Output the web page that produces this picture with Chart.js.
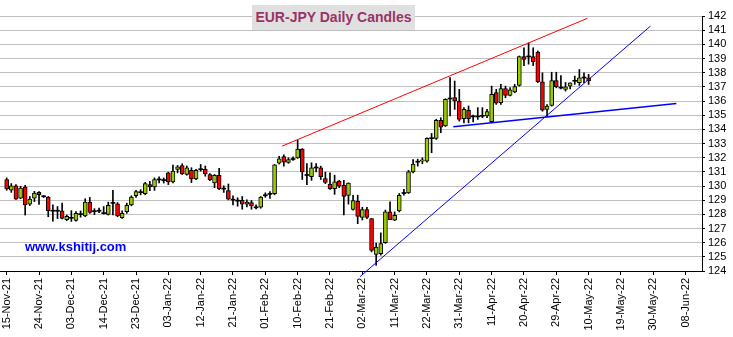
<!DOCTYPE html>
<html>
<head>
<meta charset="utf-8">
<script src="https://cdn.jsdelivr.net/npm/chart.js@4.4.1/dist/chart.umd.min.js"></script>
<style>
  body { margin: 0; background: #fff; }
  #wrap { position: relative; width: 733px; height: 337px; }
  #title {
    position: absolute; left: 252px; top: 5px; width: 163px; height: 25px;
    background: #e0e0e0; color: #993366; text-align: center;
    font: bold 14px 'Liberation Sans', Arial, sans-serif; line-height: 25px;
  }
  #site {
    position: absolute; left: 25px; top: 239px; color: #0000ff;
    font: bold 13px 'Liberation Sans', Arial, sans-serif;
  }
</style>
</head>
<body>
<div id="wrap">
  <canvas id="chart" width="733" height="337"></canvas>
  <div id="title">EUR-JPY Daily Candles</div>
  <div id="site">www.kshitij.com</div>
</div>
<script>
// x axis: one slot per trading day, a labelled tick every 7th day
const tickLabels = ['15-Nov-21', '24-Nov-21', '03-Dec-21', '14-Dec-21', '23-Dec-21', '03-Jan-22',
  '12-Jan-22', '21-Jan-22', '01-Feb-22', '10-Feb-22', '21-Feb-22', '02-Mar-22', '11-Mar-22',
  '22-Mar-22', '31-Mar-22', '11-Apr-22', '20-Apr-22', '29-Apr-22', '10-May-22', '19-May-22',
  '30-May-22', '08-Jun-22'];

// daily OHLC, 15-Nov-21 .. 10-May-22
const opens = [130.45,129.71,130.02,129.14,129.93,128.71,129.14,129.55,129.28,129.21,
  128.26,128.26,128.24,127.62,127.76,127.57,128.02,127.88,128.86,128.19,
  128.22,128.09,128.00,128.77,128.74,127.76,128.19,128.67,129.31,129.53,
  129.45,130.10,129.93,130.43,130.38,130.93,130.29,131.17,131.45,130.81,
  131.10,130.50,131.15,131.17,130.81,130.21,130.76,129.78,129.67,129.00,
  128.93,128.98,128.71,128.83,128.46,128.50,129.31,129.41,129.45,131.62,
  132.08,131.66,131.87,131.99,132.60,130.78,130.65,131.27,131.28,130.53,
  130.13,129.82,130.34,130.05,129.33,128.34,128.92,127.78,128.34,127.70,
  125.17,125.22,126.00,128.17,127.58,128.24,129.47,129.51,131.00,131.68,
  131.76,131.76,133.34,133.36,134.64,134.24,136.14,136.24,136.00,134.75,
  135.36,134.94,134.88,134.92,134.94,134.54,136.59,135.88,136.87,136.40,
  136.64,137.10,139.13,139.11,139.13,139.46,137.36,135.40,135.68,137.45,
  136.95,136.82,137.05,137.39,137.29,137.62,137.64];
const highs = [130.57,130.17,130.10,129.98,130.05,129.26,129.62,129.60,129.33,129.26,
  128.67,128.55,128.79,127.95,128.26,128.19,128.24,129.10,129.19,128.40,
  128.45,128.55,128.86,129.69,128.83,128.24,128.79,129.31,129.69,129.74,
  130.26,130.33,130.57,130.64,130.57,130.98,131.48,131.45,131.57,131.41,
  131.29,131.17,131.52,131.41,130.88,130.81,131.24,130.02,130.14,129.31,
  129.17,129.26,129.02,128.98,128.67,129.26,129.52,129.60,131.52,132.10,
  132.20,131.99,132.06,133.24,132.64,131.59,131.64,131.59,131.40,130.98,
  130.93,130.76,130.40,130.40,130.22,129.35,129.35,128.50,128.50,127.70,
  125.97,126.69,128.30,128.88,128.17,129.47,129.76,131.10,131.87,131.90,
  131.99,133.40,133.71,134.71,134.82,136.16,137.65,137.41,136.82,135.53,
  135.65,135.00,135.53,135.53,135.41,137.05,136.82,137.17,137.05,136.95,
  137.17,139.18,139.76,140.10,139.76,139.53,137.99,135.75,138.03,138.03,
  137.80,137.31,137.29,137.76,138.22,137.99,137.88];
const lows = [129.70,129.55,129.05,129.10,127.95,128.62,128.90,128.70,129.19,127.83,
  127.52,127.70,127.67,127.55,127.50,127.52,127.80,127.83,128.07,127.98,
  128.12,128.02,127.95,127.95,127.83,127.71,128.07,128.60,129.19,129.38,
  129.38,129.67,129.69,130.21,130.21,130.10,130.21,130.93,130.81,130.76,
  130.24,130.45,131.05,130.69,130.38,129.88,129.74,129.55,129.02,128.67,
  128.57,128.36,128.52,128.36,128.38,128.43,129.20,129.12,129.38,131.55,
  131.40,131.60,131.80,131.95,130.46,130.10,130.40,131.00,130.46,130.17,
  129.76,129.41,129.88,127.96,128.72,128.29,127.34,127.60,127.70,125.35,
  124.40,125.12,125.95,127.63,127.55,128.17,129.35,129.47,130.93,131.40,
  131.57,131.69,132.35,133.29,133.76,134.20,134.94,135.41,134.58,134.46,
  134.46,134.53,134.70,134.82,134.82,134.46,135.76,135.76,136.23,136.35,
  136.58,137.05,138.50,138.60,138.50,137.30,135.28,134.90,135.64,136.93,
  136.86,136.70,136.86,137.17,137.10,137.29,137.17];
const closes = [129.79,130.02,129.07,129.86,128.67,129.07,129.50,129.38,129.24,128.26,
  128.22,128.22,127.71,127.86,127.72,128.07,127.98,128.86,128.14,128.23,
  128.26,128.05,128.64,128.81,127.88,128.07,128.64,129.21,129.60,129.57,
  130.17,129.93,130.45,130.47,130.42,130.29,131.05,131.36,130.86,131.29,
  130.50,131.10,131.19,130.86,130.45,130.76,129.79,129.81,129.07,129.04,
  128.97,128.71,128.86,128.60,128.50,129.21,129.35,129.45,131.50,131.91,
  131.68,131.87,131.91,132.60,131.00,130.74,131.28,131.30,130.65,130.25,
  129.82,130.29,129.99,129.26,130.20,128.97,127.85,128.34,127.78,125.46,
  125.69,125.93,128.17,127.63,127.93,129.35,129.52,131.00,131.54,131.73,
  131.85,133.36,133.38,134.64,134.16,136.12,136.18,136.00,134.70,135.41,
  134.75,134.88,134.92,134.96,135.25,136.47,135.84,136.87,136.40,136.78,
  137.01,139.13,138.94,139.15,138.77,137.36,135.35,135.64,137.45,137.00,
  136.91,137.00,137.29,137.43,137.64,137.66,137.41];

// trend lines as [day index, price] end points
const resistanceLine = [[59.65, 132.82], [125.76, 141.84]];
const supportLine = [[76.5, 123.6], [139.4, 141.29]];
const flatLine = [[96.7, 134.18], [145.0, 135.83]];

const upColor = '#99cc00';
const downColor = '#ff0000';
const tickFont = { family: "'Liberation Sans', Arial, sans-serif", size: 11 };

function bodyColor(i) {
    const o = opens[i], c = closes[i];
    if (Math.abs(c - o) < 0.08) return '#000000';
    return c > o ? upColor : downColor;
}

function trend(points, color, width) {
    return {
        type: 'line',
        data: points.map(p => ({ x: p[0], y: p[1] })),
        borderColor: color,
        borderWidth: width,
        pointRadius: 0,
        clip: false,
        order: 0
    };
}

const ctx = document.getElementById('chart').getContext('2d');
new Chart(ctx, {
    type: 'bar',
    data: {
        datasets: [
            trend(resistanceLine, '#ff0000', 1),
            trend(supportLine, '#0000ff', 1),
            trend(flatLine, '#0000ff', 1.5),
            {
                // candle bodies
                data: opens.map((o, i) => ({ x: i, y: [o, closes[i]] })),
                backgroundColor: c => bodyColor(c.dataIndex),
                borderColor: '#000000',
                borderWidth: c => Math.abs(closes[c.dataIndex] - opens[c.dataIndex]) < 0.08 ? 0 : 1,
                borderSkipped: false,
                barThickness: 4,
                minBarLength: 1,
                grouped: false,
                order: 1
            },
            {
                // wicks
                data: opens.map((o, i) => ({ x: i, y: [lows[i], highs[i]] })),
                backgroundColor: '#000000',
                borderWidth: 0,
                barThickness: 1,
                grouped: false,
                order: 2
            }
        ]
    },
    options: {
        responsive: false,
        animation: false,
        devicePixelRatio: 1,
        layout: { padding: { top: 16, left: 0, right: 0, bottom: 0 } },
        plugins: {
            legend: { display: false },
            tooltip: { enabled: false }
        },
        scales: {
            x: {
                type: 'linear',
                min: -1.45,
                max: 150.55,
                offset: false,
                afterBuildTicks: s => { s.ticks = tickLabels.map((t, i) => ({ value: i * 7 })); },
                afterFit: s => { s.height = 66; s.paddingLeft = 0; s.paddingRight = 0; },
                ticks: {
                    autoSkip: false,
                    minRotation: 90,
                    maxRotation: 90,
                    padding: 3,
                    color: '#000000',
                    font: tickFont,
                    callback: (v, i) => tickLabels[i]
                },
                grid: { drawOnChartArea: false, tickLength: 4, tickColor: '#000000', offset: false },
                border: { color: '#000000', width: 1 }
            },
            y: {
                position: 'right',
                min: 124,
                max: 142,
                ticks: { stepSize: 1, autoSkip: false, padding: 3, color: '#000000', font: tickFont },
                grid: { color: '#c0c0c0', tickColor: '#000000', tickLength: 3 },
                border: { color: '#000000', width: 1 },
                afterFit: s => { s.width = 31; s.paddingTop = 0; s.paddingBottom = 0; }
            }
        }
    }
});
</script>
</body>
</html>
